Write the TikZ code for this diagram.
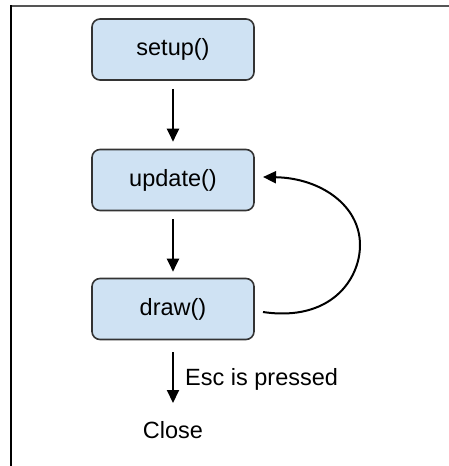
\documentclass[tikz,border=0pt]{standalone}
\usepackage{fontspec}
\setmainfont{Liberation Sans}
\usetikzlibrary{arrows.meta}
\definecolor{boxfill}{HTML}{CFE2F3}
\definecolor{boxline}{HTML}{333333}
\definecolor{frametop}{HTML}{555555}
\begin{document}
\begin{tikzpicture}[x=1pt,y=-1pt,
  fnbox/.style={draw=boxline,fill=boxfill,line width=1.6pt,rounded corners=8pt,
    minimum width=162pt,minimum height=61pt,inner sep=0pt,
    font=\fontsize{23.5}{28}\selectfont},
  lbl/.style={inner sep=0pt,font=\fontsize{23.5}{28}\selectfont},
  flow/.style={line width=2pt,-{Triangle[length=13pt,width=12pt]}}]
\useasboundingbox (0,0) rectangle (449,466);
\draw[frametop,line width=2pt] (10,6) -- (449,6);
\draw[black,line width=1.6pt] (11,5) -- (11,466);
\node[fnbox] (setup) at (173,49.5) {setup()};
\node[fnbox] (update) at (173,180) {update()};
\node[fnbox] (draw) at (173,309) {draw()};
\node[lbl,anchor=base west] (esc) at (185,385) {Esc is pressed};
\node[lbl,anchor=base] (close) at (173,438) {Close};
\draw[flow,shorten <=8pt,shorten >=7pt] (setup.south) -- (update.north);
\draw[flow,shorten <=8pt,shorten >=6pt] (update.south) -- (draw.north);
\coordinate (escend) at (173,403);
\draw[flow,shorten <=12pt] (draw.south) -- (escend);
\coordinate (loopstart) at (263,312);
\coordinate (looptip) at (263,177);
\draw[flow] (loopstart) .. controls (330,322) and (360,280) .. (360,245)
  .. controls (360,205) and (320,178) .. (looptip);
\end{tikzpicture}
\end{document}
